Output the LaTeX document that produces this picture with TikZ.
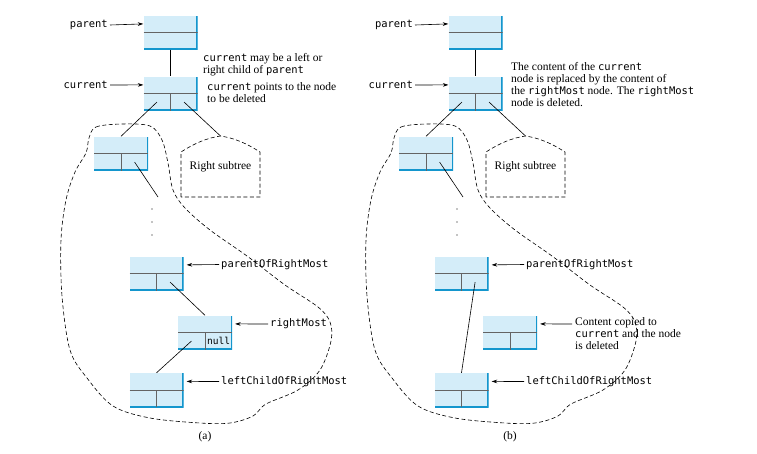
\documentclass[tikz,border=0pt]{standalone}
\usepackage{fontspec}
\setmainfont{Liberation Serif}
\setmonofont[Scale=0.91]{DejaVu Sans Mono}
\usepackage{tikz}
\usetikzlibrary{calc,positioning,arrows.meta}
\definecolor{boxfill}{RGB}{212,237,249}
\definecolor{boxedge}{RGB}{20,150,205}
\definecolor{divgray}{RGB}{100,100,100}
\newcommand{\code}[1]{\texttt{#1}}

\begin{document}
\begin{tikzpicture}[x=1pt, y=-1pt, font=\fontsize{11.5}{12}\selectfont,
  cell/.style={rectangle, fill=boxfill, minimum width=54pt, minimum height=34pt, inner sep=0pt,
    path picture={
      \draw[boxedge, line width=2.6pt] (path picture bounding box.north east)
        -- (path picture bounding box.south east) -- (path picture bounding box.south west);
      \draw[divgray, line width=0.9pt] (path picture bounding box.west) -- (path picture bounding box.east);
    }},
  divider/.style={divgray, line width=0.9pt},
  link/.style={line width=0.6pt},
  ptr/.style={line width=0.6pt, -{Stealth[length=5.5pt, width=3.6pt]}},
  lbl/.style={font=\fontsize{11.5}{12}\selectfont\ttfamily, inner sep=2pt},
  note/.style={align=left, inner sep=0pt, anchor=north west},
  outline/.style={dashed, line width=0.6pt, dash pattern=on 4pt off 2.5pt}]
  \useasboundingbox (0,0) rectangle (757,453);

  % Shared part of both panels
  \foreach \p/\dx in {A/0, B/305} {
    \node[cell] (par\p) at (170.5+\dx, 32.5) {};
    \node[cell] (cur\p) at (170.5+\dx, 93.5) {};
    \node[cell] (lc\p) at (121+\dx, 153.5) {};
    \node[cell] (por\p) at (156.5+\dx, 273.5) {};
    \node[cell] (rm\p) at (205+\dx, 332.5) {};
    \node[cell] (lcr\p) at (156.5+\dx, 390) {};
    \foreach \n in {cur, lc, por, rm, lcr}
      \draw[divider] (\n\p.center) -- (\n\p.south);

    % pointers
    \node[lbl, anchor=east] (pl\p) at (110+\dx, 25) {parent};
    \node[lbl, anchor=east] (cl\p) at (110+\dx, 85) {current};
    \node[lbl, anchor=west] (porl\p) at (219+\dx, 264.5) {parentOfRightMost};
    \node[lbl, anchor=west] (lcrl\p) at (219+\dx, 381.5) {leftChildOfRightMost};
    \draw[ptr] (pl\p.east) -- ($(par\p.west)!0.5!(par\p.north west)$);
    \draw[ptr] (cl\p.east) -- ($(cur\p.west)!0.5!(cur\p.north west)$);
    \draw[ptr, shorten >=3pt] (porl\p.west) -- ($(por\p.east)!0.5!(por\p.north east)$);
    \draw[ptr, shorten >=3pt] (lcrl\p.west) -- ($(lcr\p.east)!0.5!(lcr\p.north east)$);

    % right subtree
    \node (rs\p) at (220.5+\dx, 167) {Right subtree};
    \coordinate (top\p) at (220.5+\dx, 136);
    \draw[outline] (181+\dx, 197) -- (181+\dx, 152)
      .. controls (195+\dx, 143) and (207+\dx, 138) .. (top\p)
      .. controls (234+\dx, 138) and (246+\dx, 143) .. (260+\dx, 152)
      -- (260+\dx, 197) -- cycle;

    % links
    \coordinate (down\p) at (158+\dx, 197);
    \draw[link] (par\p) -- (cur\p);
    \draw[link] ($(cur\p.center)!0.5!(cur\p.south west)$) -- (lc\p.north);
    \draw[link] ($(cur\p.center)!0.5!(cur\p.south east)$) -- (top\p);
    \draw[link] ($(lc\p.center)!0.5!(lc\p.south east)$) -- (down\p);
    \foreach \y in {209, 222, 235}
      \fill (152+\dx, \y) circle (0.7pt);

    % left subtree
    \begin{scope}[xshift=\dx]
      \draw[outline] plot[smooth cycle, tension=0.55] coordinates {
        (89,138) (96,127) (122,124) (150,126) (162,140) (168,163) (173,190)
        (185,208) (210,230) (247,256) (285,285) (318,307) (330,322) (331,341)
        (320,370) (298,390) (266,404) (253,416) (230,423) (200,423) (150,418)
        (113,406) (87,378) (70,350) (62,296) (61,240) (66,200) (75,172) (86,153)};
    \end{scope}
  }

  % (a)
  \node[lbl, font=\fontsize{10.5}{12}\selectfont\ttfamily, inner sep=0pt]
    (nullA) at ($(rmA.center)!0.5!(rmA.south east)$) {null};
  \node[lbl, anchor=west] (rml) at (268, 324) {rightMost};
  \draw[ptr, shorten >=3pt] (rml.west) -- ($(rmA.east)!0.5!(rmA.north east)$);
  \draw[link] ($(porA.center)!0.5!(porA.south east)$) -- (rmA.north);
  \draw[link] ($(rmA.center)!0.5!(rmA.south west)$) -- (lcrA.north);
  \node[note] (noteA) at (203, 53) {\code{current} may be a left or\\right child of \code{parent}};
  \node[note] (delA) at (207, 82) {\code{current} points to the node\\to be deleted};
  \node (capA) at (205, 437) {(a)};

  % (b)
  \draw[link] ($(porB.center)!0.5!(porB.south east)$) -- (lcrB.north);
  \node[note] (noteB) at (511, 62) {The content of the \code{current}\\node is replaced by the content of\\the \code{rightMost} node. The \code{rightMost}\\node is deleted.};
  \node[note] (copyB) at (575, 317) {Content copied to\\\code{current} and the node\\is deleted};
  \coordinate (cpB) at (572, 324);
  \draw[ptr, shorten >=3pt] (cpB) -- ($(rmB.east)!0.5!(rmB.north east)$);
  \node (capB) at (510, 437) {(b)};
\end{tikzpicture}
\end{document}
